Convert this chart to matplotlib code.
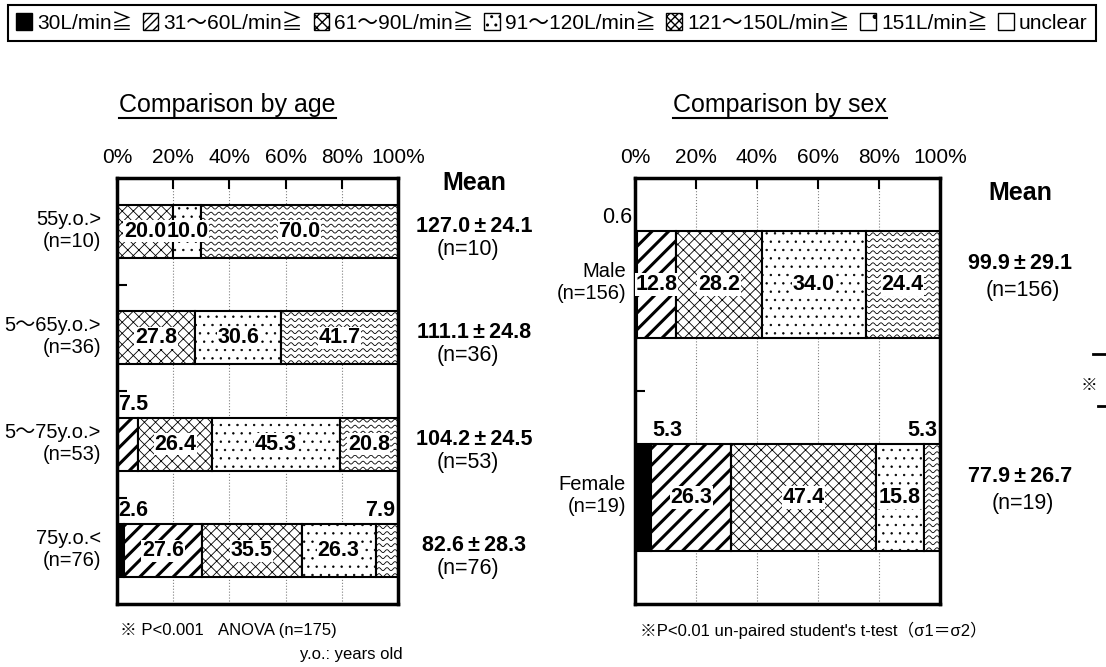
import numpy as np
import matplotlib
matplotlib.use("Agg")
import matplotlib.pyplot as plt
import matplotlib.patches as mpatches
from matplotlib.lines import Line2D
from matplotlib.transforms import blended_transform_factory

plt.rcParams["font.family"] = ["Liberation Sans", "Noto Sans CJK JP", "DejaVu Sans"]

# flow classes (legend order)
classes = ["30L/min≧", "31～60L/min≧", "61～90L/min≧", "91～120L/min≧",
           "121～150L/min≧", "151L/min≧", "unclear"]

# comparison by age (%)
age_groups = ["55y.o.>", "5～65y.o.>", "5～75y.o.>", "75y.o.<"]
age_n = [10, 36, 53, 76]
age_30 = [0, 0, 0, 2.6]
age_60 = [0, 0, 7.5, 27.6]
age_90 = [20.0, 27.8, 26.4, 35.5]
age_120 = [10.0, 30.6, 45.3, 26.3]
age_150 = [70.0, 41.7, 20.8, 7.9]
age_mean = [127.0, 111.1, 104.2, 82.6]
age_sd = [24.1, 24.8, 24.5, 28.3]

# comparison by sex (%)
sex_groups = ["Male", "Female"]
sex_n = [156, 19]
sex_30 = [0.6, 5.3]
sex_60 = [12.8, 26.3]
sex_90 = [28.2, 47.4]
sex_120 = [34.0, 15.8]
sex_150 = [24.4, 5.3]
sex_mean = [99.9, 77.9]
sex_sd = [29.1, 26.7]

W, H = 1106, 667
fig = plt.figure(figsize=(W / 100, H / 100), dpi=100)

# style for each class: (facecolor, hatch, hatch linewidth)
styles = [
    ("black", None, 1.0),
    ("white", "//", 2.2),
    ("white", "xxx", 0.6),
    ("white", "..", 0.5),
    ("white", None, 0.6),   # wavy texture drawn by hand
    ("white", ".", 0.5),
    ("white", None, 1.0),
]
legend_hatch = [None, "////", "xxx", "..", "xxxx", ".", None]


def add_waves(ax, rect, step_px=6.0, period_px=8.0, amp_px=1.5):
    bbox = ax.get_window_extent()
    x0, x1 = ax.get_xlim()
    y0, y1 = ax.get_ylim()
    sx = bbox.width / abs(x1 - x0)
    sy = bbox.height / abs(y1 - y0)
    rx, ry = rect.get_x(), rect.get_y()
    rw, rh = rect.get_width(), rect.get_height()
    xs = np.linspace(rx, rx + rw, max(int(rw * sx), 2) + 2)
    for yy in np.arange(ry + step_px / sy / 2, ry + rh, step_px / sy):
        ys = yy + amp_px / sy * np.sin(2 * np.pi * xs * sx / period_px)
        ln, = ax.plot(xs, ys, color="black", lw=0.6, zorder=2.5)
        ln.set_clip_path(rect)


def draw_panel(ax, groups, ns, series, means, sds, outside, label_x, mean_x, n_x,
               mean_dy, n_dy, mean_head_y):
    nrow = len(groups)
    ax.set_xlim(0, 100)
    ax.set_ylim(nrow - 0.5, -0.5)
    rows = np.arange(nrow)
    left = np.zeros(nrow)
    row_px = 426 / nrow
    for k, vals in enumerate(series):
        fc, hatch, hlw = styles[k]
        with plt.rc_context({"hatch.linewidth": hlw}):
            bars = ax.barh(rows, vals, left=left, height=0.5, color=fc,
                           edgecolor="black", linewidth=1.5, hatch=hatch, zorder=2)
        if k == 4:
            for r, v in zip(bars.patches, vals):
                if v > 0:
                    add_waves(ax, r)
        for i, v in enumerate(vals):
            if v <= 0:
                continue
            key = (i, k)
            if key in outside:
                ha, where = outside[key]
                x = left[i] if where == "start" else left[i] + v
                x += {"left": 0.3, "right": -1.0}[ha]
                # a label left of the frame is set in plain type
                weight = "normal" if x < 0 else "bold"
                ax.annotate(f"{v:.1f}", xy=(x, i - 0.25), xytext=(0, 2),
                            textcoords="offset points", ha=ha, va="bottom",
                            fontsize=15.5, fontweight=weight, zorder=4,
                            annotation_clip=False)
            else:
                ax.text(left[i] + v / 2, i, f"{v:.1f}", ha="center", va="center",
                        fontsize=15.5, fontweight="bold", zorder=4,
                        bbox=dict(facecolor="white", edgecolor="none", pad=0.5))
        left += np.array(vals)

    tr = blended_transform_factory(ax.transAxes, ax.transData)
    for i, (g, n) in enumerate(zip(groups, ns)):
        ax.text(label_x, i - 0.01, f"{g}\n(n={n})", transform=tr, ha="right",
                va="center", multialignment="right", fontsize=14.5, linespacing=1.2)
        ax.text(mean_x, i + mean_dy / row_px, f"{means[i]:.1f}\u2009±\u2009{sds[i]:.1f}",
                transform=tr, ha="center", va="center", fontsize=15.5, fontweight="bold")
        ax.text(n_x, i + n_dy / row_px, f"(n={n})", transform=tr, ha="center",
                va="center", fontsize=15.5)
    ax.text(mean_x, mean_head_y, "Mean", transform=ax.transAxes, ha="center",
            va="center", fontsize=18, fontweight="bold")

    ax.set_xticks([0, 20, 40, 60, 80, 100])
    ax.set_xticklabels(["0%", "20%", "40%", "60%", "80%", "100%"], fontsize=15)
    ax.tick_params(axis="x", direction="in", top=True, bottom=False, labeltop=True,
                   labelbottom=False, length=8, width=1.5, pad=8)
    ax.set_yticks(np.arange(nrow - 1) + 0.5)
    ax.tick_params(axis="y", direction="in", length=7, width=1.5, labelleft=False)
    ax.xaxis.grid(True, linestyle=":", color="gray", lw=0.8)
    ax.set_axisbelow(True)
    for sp in ax.spines.values():
        sp.set_linewidth(2.5)


ax1 = fig.add_axes([117 / W, 1 - 604 / H, 281 / W, 426 / H])
ax2 = fig.add_axes([635 / W, 1 - 604 / H, 305 / W, 426 / H])

draw_panel(ax1, age_groups, age_n, [age_30, age_60, age_90, age_120, age_150],
           age_mean, age_sd,
           outside={(2, 1): ("left", "start"), (3, 0): ("left", "start"),
                    (3, 4): ("right", "end")},
           label_x=(101 - 117) / 281, mean_x=(474 - 117) / 281,
           n_x=(468 - 117) / 281, mean_dy=-5, n_dy=18, mean_head_y=(604 - 183) / 426)
draw_panel(ax2, sex_groups, sex_n, [sex_30, sex_60, sex_90, sex_120, sex_150],
           sex_mean, sex_sd,
           outside={(0, 0): ("right", "start"), (1, 0): ("left", "end"),
                    (1, 4): ("right", "end")},
           label_x=(626 - 635) / 305, mean_x=(1020 - 635) / 305,
           n_x=(1023 - 635) / 305, mean_dy=-21, n_dy=6, mean_head_y=(604 - 193) / 426)

# titles with underline
titles = [("Comparison by age", 119), ("Comparison by sex", 673)]
fig.canvas.draw()
for txt, x in titles:
    t = fig.text(x / W, 1 - 105 / H, txt, fontsize=18, ha="left", va="center")
    fig.canvas.draw()
    bb = t.get_window_extent()
    fig.add_artist(Line2D([bb.x0 / W, bb.x1 / W], [1 - 118 / H, 1 - 118 / H],
                          transform=fig.transFigure, color="black", lw=1.5))

# footnotes
fig.text(120 / W, 1 - 630 / H, "※ P<0.001", fontsize=12, va="center")
fig.text(218 / W, 1 - 630 / H, "ANOVA (n=175)", fontsize=12, va="center")
fig.text(300 / W, 1 - 655 / H, "y.o.: years old", fontsize=12, va="center")
fig.text(640 / W, 1 - 630 / H, "※P<0.01 un-paired student's t-test（σ1＝σ2）",
         fontsize=12, va="center")

# significance bracket at the right edge
fig.add_artist(Line2D([1093 / W, 1.0], [1 - 354 / H] * 2, transform=fig.transFigure,
                      color="black", lw=2))
fig.add_artist(Line2D([1098 / W, 1.0], [1 - 406 / H] * 2, transform=fig.transFigure,
                      color="black", lw=2))
fig.text(1089 / W, 1 - 385 / H, "※", fontsize=12, ha="center", va="center")

# legend
handles = []
for k, lab in enumerate(classes):
    fc = styles[k][0]
    with plt.rc_context({"hatch.linewidth": 0.8}):
        handles.append(mpatches.Patch(facecolor=fc, edgecolor="black", lw=1.0,
                                      hatch=legend_hatch[k], label=lab))
leg = fig.legend(handles=handles, ncol=7, loc="upper left",
                 bbox_to_anchor=(8 / W, 1 - 44 / H, 1088 / W, 39 / H), mode="expand",
                 fontsize=15, handlelength=0.75, handleheight=0.85, handletextpad=0.25,
                 columnspacing=0.6, borderpad=0.4, borderaxespad=0, fancybox=False,
                 edgecolor="black", framealpha=1)
leg.get_frame().set_linewidth(1.5)

fig.savefig("out.png", dpi=100)
